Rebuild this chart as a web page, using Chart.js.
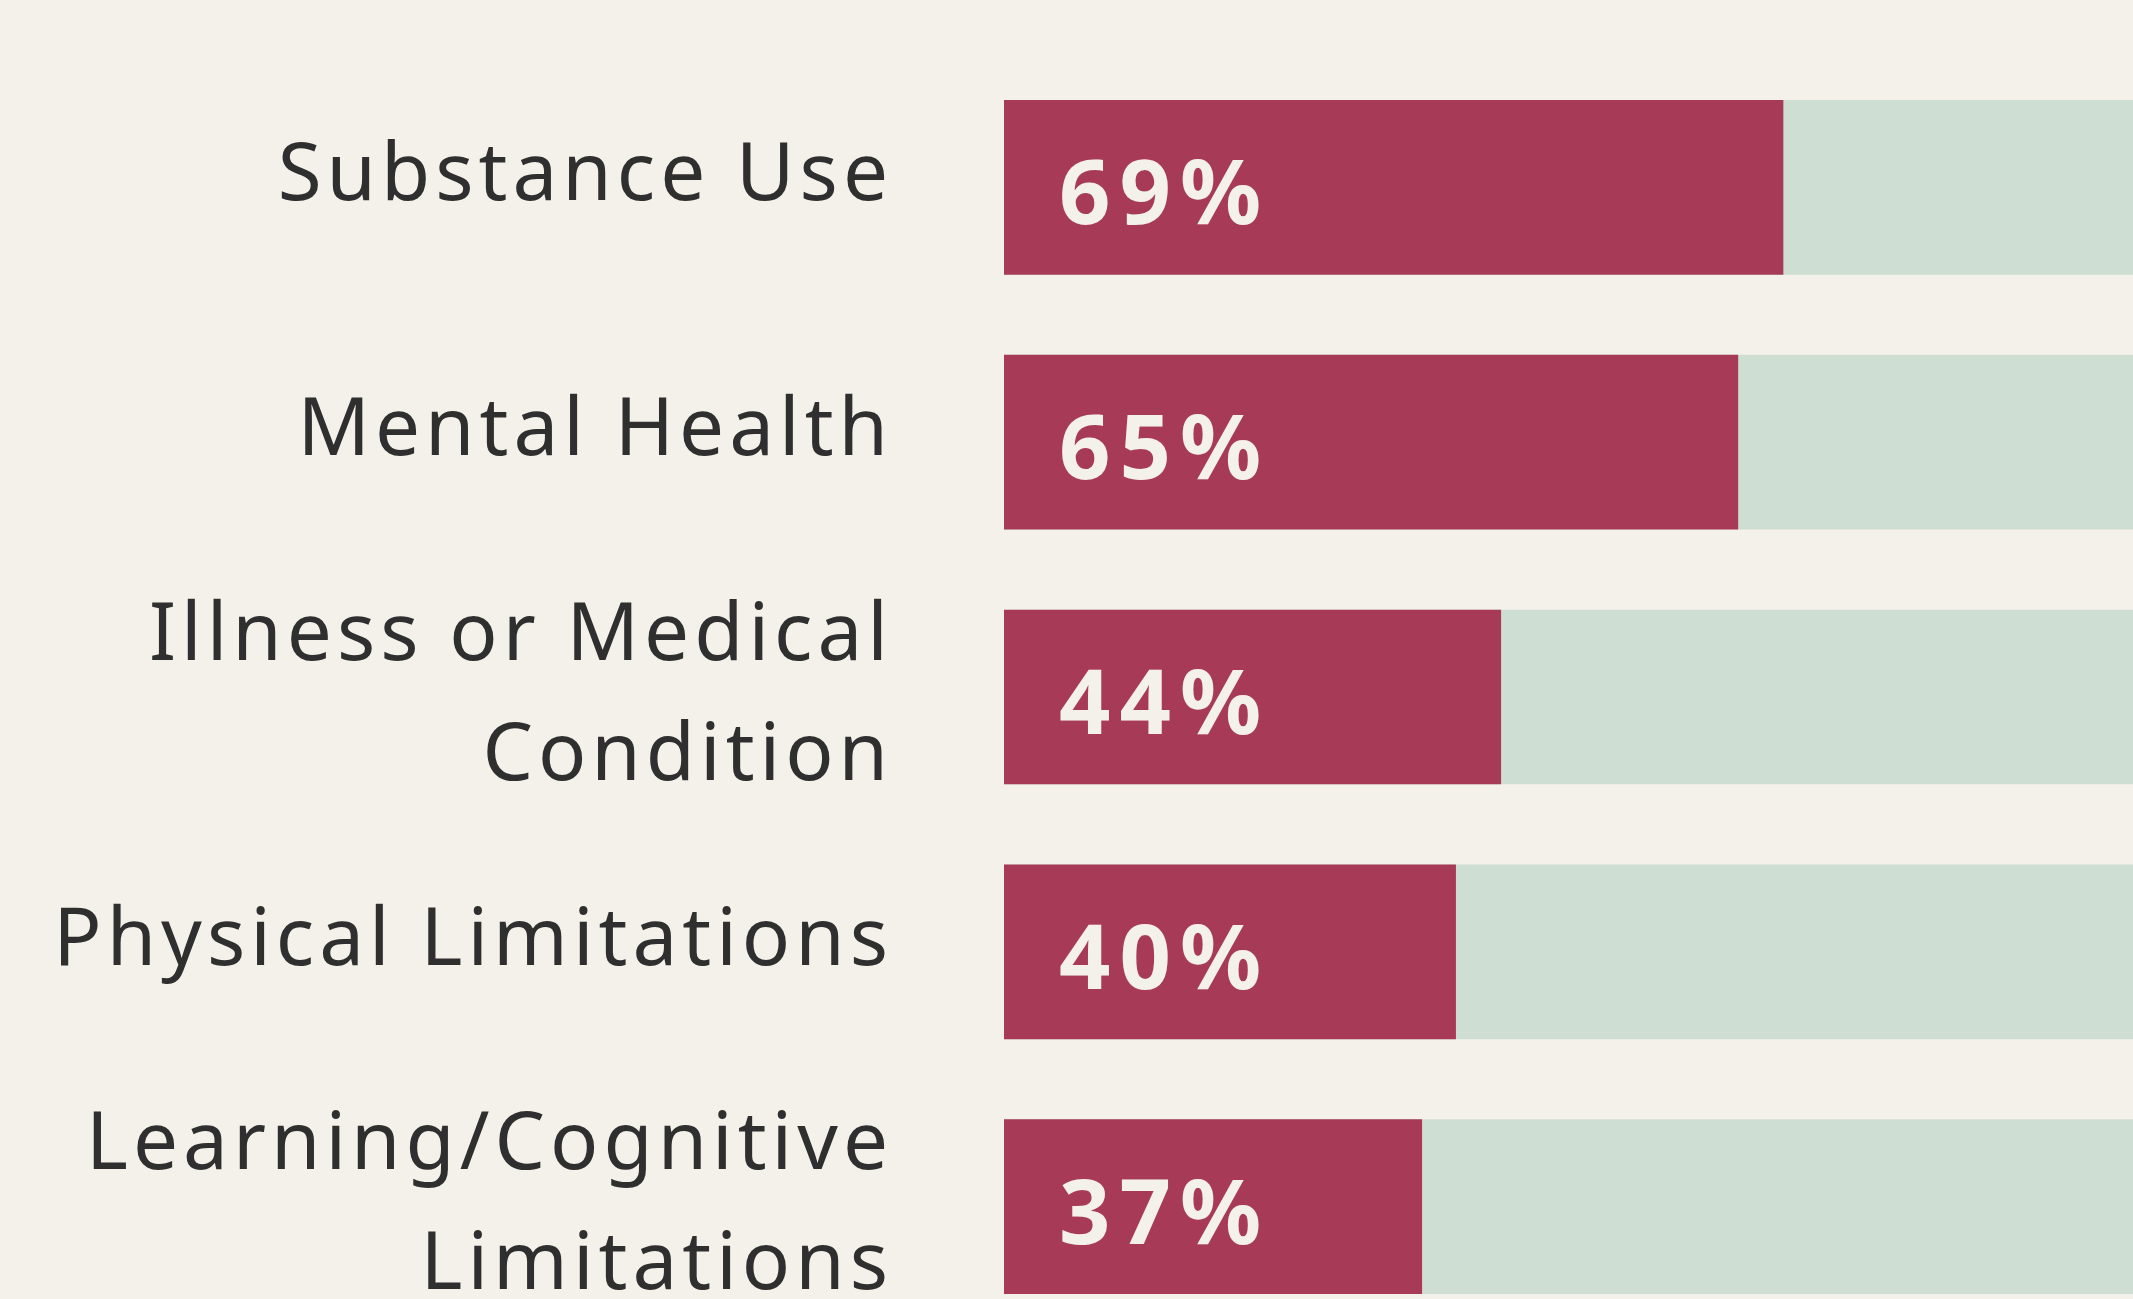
<!DOCTYPE html>
<html><head><meta charset="utf-8">
<script src="https://cdn.jsdelivr.net/npm/chart.js@4.4.1/dist/chart.umd.min.js"></script>
<style>
html,body{margin:0;padding:0;background:#F4F1EA;overflow:hidden;}
#wrap{position:relative;width:2133px;height:1334px;}
</style></head><body>
<div id="wrap"><canvas id="c"></canvas></div>
<script>
const categories = [['Substance Use'], ['Mental Health'], ['Illness or Medical', 'Condition'], ['Physical Limitations'], ['Learning/Cognitive', 'Limitations']];
const shares = [69, 65, 44, 40, 37];
const track = [100, 100, 100, 100, 100];
const valueLabels = ['69%', '65%', '44%', '40%', '37%'];

const RED = '#A73A57', GREEN = '#CEDED3', BG = '#F4F1EA', TEXT = '#2F2F2F';

const textPlugin = {
  id: 'textPlugin',
  beforeDraw(chart) { chart.ctx.letterSpacing = '5px'; },
  afterDatasetsDraw(chart) {
    const ctx = chart.ctx;
    const meta = chart.getDatasetMeta(0);
    ctx.save();
    ctx.letterSpacing = '9px';
    ctx.font = 'bold 90px "Noto Sans"';
    ctx.fillStyle = BG;
    ctx.textAlign = 'left';
    ctx.textBaseline = 'alphabetic';
    meta.data.forEach((bar, i) => {
      ctx.fillText(valueLabels[i], bar.base + 55, bar.y + 37);
    });
    ctx.restore();
  },
  afterDraw(chart) { chart.ctx.letterSpacing = '0px'; }
};

new Chart(document.getElementById('c'), {
  type: 'bar',
  data: {
    labels: categories,
    datasets: [
      { data: shares, backgroundColor: RED, barThickness: 174, grouped: false, order: 1, borderWidth: 0 },
      { data: track, backgroundColor: GREEN, barThickness: 174, grouped: false, order: 2, borderWidth: 0 }
    ]
  },
  options: {
    indexAxis: 'y',
    responsive: true,
    maintainAspectRatio: false,
    animation: false,
    layout: { padding: { top: 60, bottom: 0, left: 0, right: 0 } },
    plugins: { legend: { display: false }, tooltip: { enabled: false } },
    scales: {
      x: { display: false, min: 0, max: 100 },
      y: {
        grid: { display: false },
        border: { display: false },
        ticks: {
          padding: 103,
          color: TEXT,
          font: (c) => ({ family: 'Noto Sans', size: 80, lineHeight: (categories[c.index] && categories[c.index].length > 1) ? 1.5 : 0.25 }),
          callback: (v, i) => categories[i].length > 1 ? categories[i] : [categories[i][0], '']
        },
        afterFit: (s) => { s.width = 1004; s.paddingTop = 0; s.paddingBottom = 0; }
      }
    }
  },
  plugins: [textPlugin]
});
</script>
</body></html>
